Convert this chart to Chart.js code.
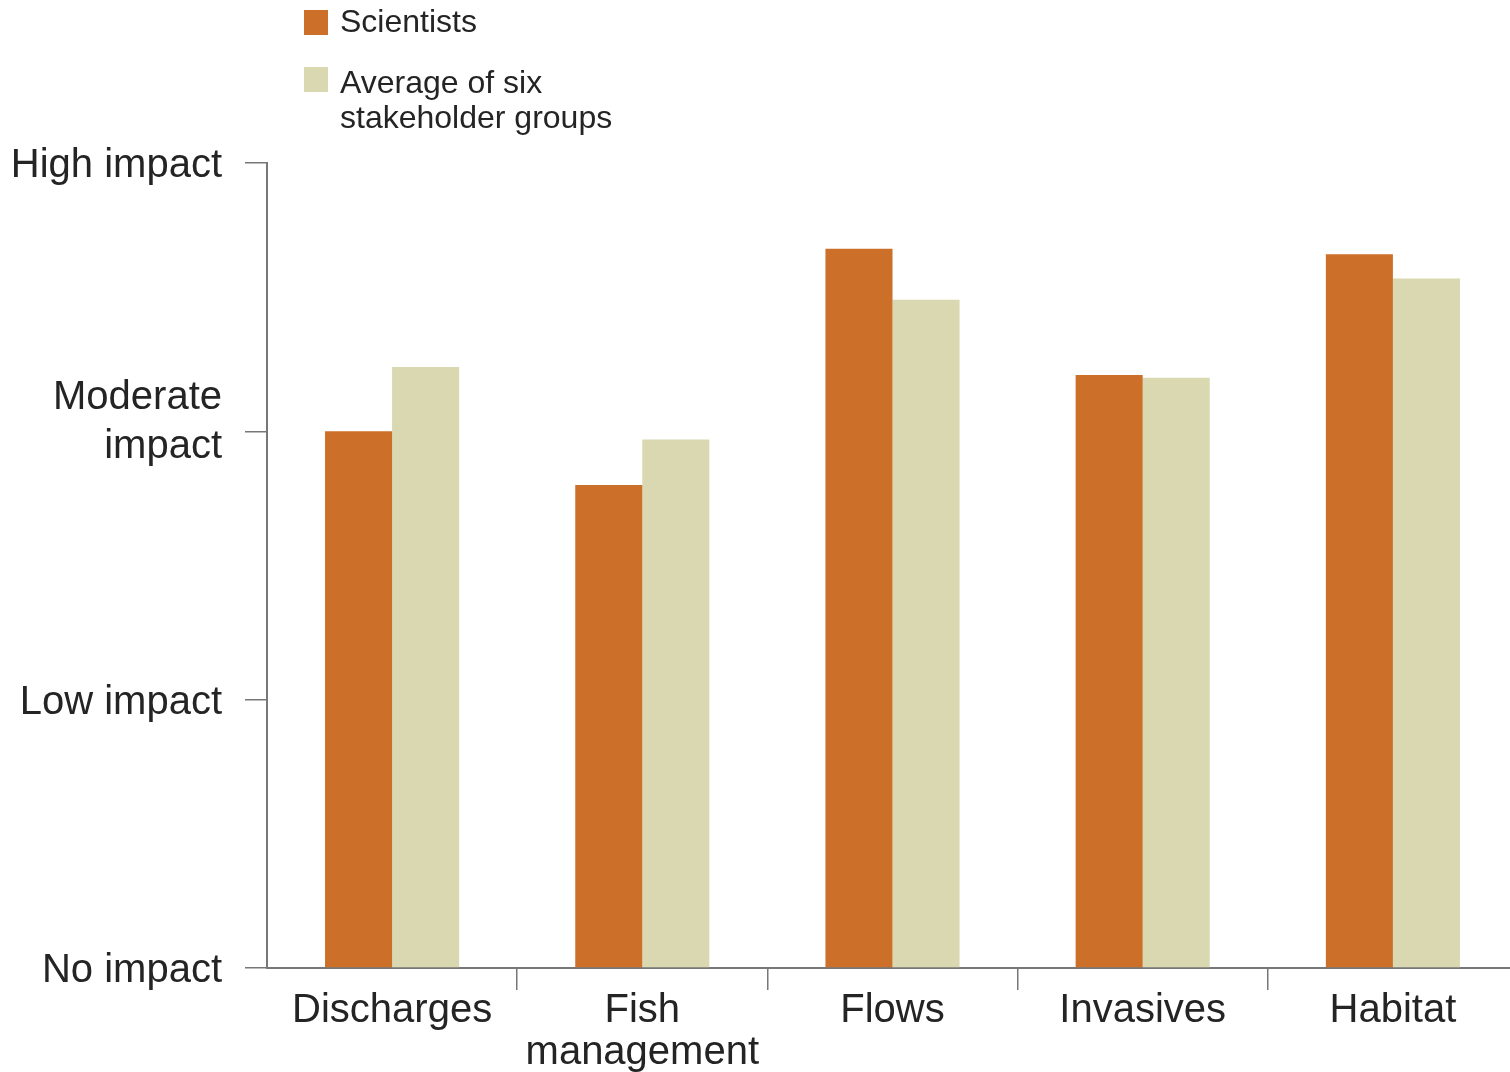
<!DOCTYPE html>
<html>
<head>
<meta charset="utf-8">
<title>Perceived impact of stressors</title>
<script src="https://cdn.jsdelivr.net/npm/chart.js@4.4.1/dist/chart.umd.min.js"></script>
<style>
  html, body { margin: 0; padding: 0; background: #ffffff; overflow: hidden; }
  canvas { display: block; }
</style>
</head>
<body>
<canvas id="chart" width="1518" height="1072"></canvas>
<script>
// Stressor categories along the x axis
const categories = ['Discharges', ['Fish', 'management'], 'Flows', 'Invasives', 'Habitat'];

// Impact ratings (0 = no impact, 3 = high impact)
const scientists = [2.00, 1.80, 2.68, 2.21, 2.66];
const stakeholderAverage = [2.24, 1.97, 2.49, 2.20, 2.57];

// Series names as shown in the legend
const seriesNames = ['Scientists', ['Average of six', 'stakeholder groups']];

// Y-axis labels for ratings 0..3
const impactLabels = ['No impact', 'Low impact', ['Moderate', '', 'impact', ''], 'High impact'];

const COLORS = ['#CC6F28', '#D9D8B0'];
const TEXT = '#242424';
const AXIS = '#777777';
const FONT = '"Liberation Sans", Arial, Helvetica, sans-serif';

// Legend block in the top-left
const legendPlugin = {
  id: 'topLegend',
  afterDraw(chart) {
    const ctx = chart.ctx;
    ctx.save();
    const entries = [
      { color: COLORS[0], box: 10, lines: [seriesNames[0]], y: 23 },
      { color: COLORS[1], box: 67, lines: seriesNames[1], y: 84 }
    ];
    ctx.font = '32px ' + FONT;
    ctx.textBaseline = 'middle';
    ctx.textAlign = 'left';
    entries.forEach(e => {
      ctx.fillStyle = e.color;
      ctx.fillRect(304, e.box, 24, 25);
      ctx.fillStyle = TEXT;
      e.lines.forEach((line, i) => ctx.fillText(line, 340, e.y + i * 35));
    });
    ctx.restore();
  }
};

new Chart(document.getElementById('chart'), {
  type: 'bar',
  data: {
    labels: categories,
    datasets: [
      { label: 'Scientists', data: scientists, backgroundColor: COLORS[0], borderWidth: 0,
        categoryPercentage: 0.536, barPercentage: 1.0 },
      { label: 'Average of six stakeholder groups', data: stakeholderAverage, backgroundColor: COLORS[1], borderWidth: 0,
        categoryPercentage: 0.536, barPercentage: 1.0 }
    ]
  },
  options: {
    responsive: false,
    animation: false,
    devicePixelRatio: 1,
    layout: { padding: { top: 163, left: 0, right: 0, bottom: 0 } },
    plugins: {
      legend: { display: false },
      tooltip: { enabled: false }
    },
    scales: {
      x: {
        offset: true,
        grid: {
          offset: true,
          drawOnChartArea: false,
          drawTicks: true,
          tickLength: 22,
          lineWidth: 1.5,
          color: (c) => (c.index === 0 ? 'rgba(0,0,0,0)' : AXIS)
        },
        border: { display: true, color: AXIS, width: 2 },
        ticks: {
          color: TEXT,
          padding: 0,
          maxRotation: 0,
          autoSkip: false,
          font: { family: FONT, size: 40, lineHeight: 1.05 }
        },
        afterFit(scale) { scale.height = 104; }
      },
      y: {
        min: 0,
        max: 3,
        grid: {
          drawOnChartArea: false,
          drawTicks: true,
          tickLength: 22,
          lineWidth: 1.5,
          color: AXIS
        },
        border: { display: true, color: AXIS, width: 2 },
        ticks: {
          stepSize: 1,
          color: TEXT,
          padding: 23,
          labelOffset: 3,
          // the two-line label uses half-height spacer lines so its text sits above the tick
          font: (c) => ({ family: FONT, size: 40, lineHeight: c.index === 2 ? 0.6125 : 1.2 }),
          callback: (value) => impactLabels[value]
        },
        afterFit(scale) { scale.width = 267; }
      }
    }
  },
  plugins: [legendPlugin]
});
</script>
</body>
</html>
